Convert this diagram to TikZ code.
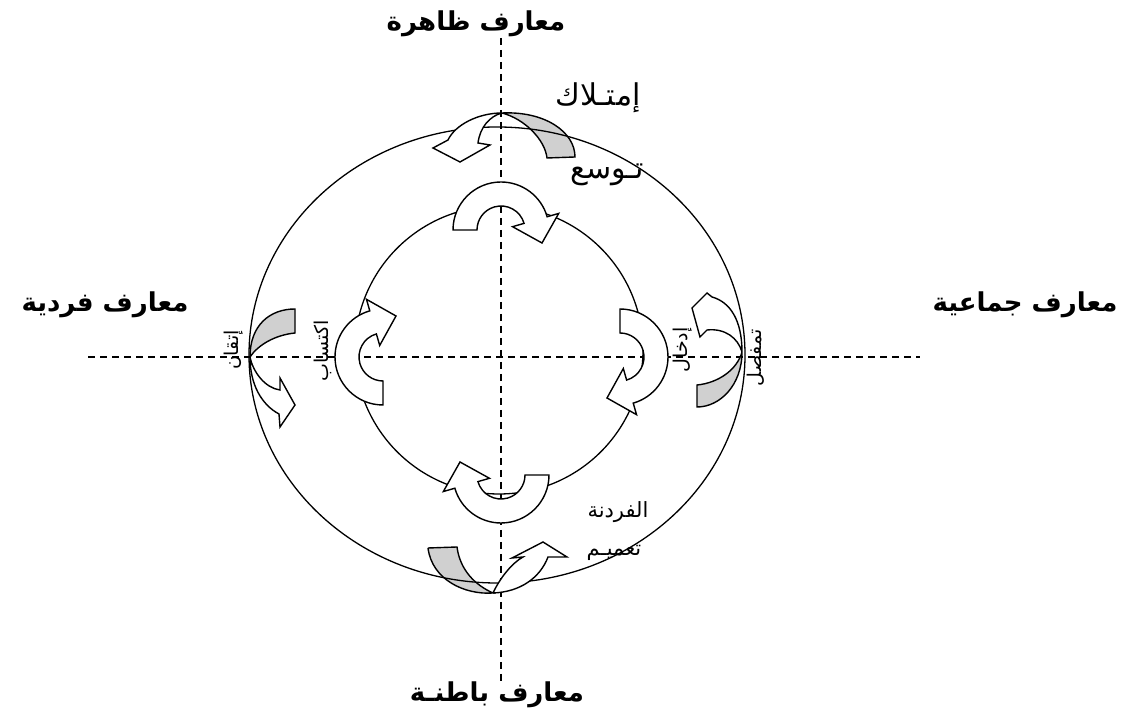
\documentclass[tikz,border=0pt]{standalone}
\usepackage{fontspec}
\usepackage{xcolor}
\usepackage{tikz}
\newfontfamily\arabicfont[Script=Arabic]{DejaVu Sans}
\TeXXeTstate=1
\definecolor{ribbongray}{HTML}{D0D0D0}

\tikzset{
  inarrow/.pic={
    \draw[line width=1.4pt, fill=white] (180:48) arc[start angle=180, end angle=16, radius=48]
      -- (16:60) -- (41,-13) -- (16:12) -- (16:24) arc[start angle=16, end angle=180, radius=24] -- cycle;
  }
}

\begin{document}
\begin{tikzpicture}[x=1pt, y=1pt,
    axis/.style={dash pattern=on 7pt off 5pt, line width=1.1pt},
    ring/.style={line width=1.3pt},
    backface/.style={line width=1.4pt, fill=ribbongray},
    frontface/.style={line width=1.4pt, fill=white},
    biglabel/.style={font=\arabicfont\bfseries\fontsize{26}{30}\selectfont},
    midlabel/.style={font=\arabicfont\fontsize{30}{34}\selectfont},
    smalllabel/.style={font=\arabicfont\fontsize{21}{25}\selectfont},
    sidelabel/.style={font=\arabicfont\fontsize{19}{22}\selectfont, rotate=90}]
  \useasboundingbox (0,0) rectangle (1121,722);

  % axes
  \coordinate (axW) at (88,365);
  \coordinate (axE) at (920,365);
  \coordinate (axN) at (501,684);
  \coordinate (axS) at (501,40);
  \draw[axis] (axW) -- (axE);
  \draw[axis] (axN) -- (axS);

  % twist points of the outer ribbons
  \coordinate (twN) at (502,609);
  \coordinate (twW) at (250,365);
  \coordinate (twE) at (742,370);
  \coordinate (twS) at (493,129);

  % grey back faces
  \draw[backface] (twN) .. controls (545,611) and (575,590) .. (575,565) -- (547,564)
    .. controls (545,582) and (525,603) .. (twN);
  \draw[backface] (twW) .. controls (250,397) and (270,413) .. (295,413) -- (295,389)
    .. controls (275,387) and (258,377) .. (twW);
  \draw[backface] (twE) .. controls (742,337) and (720,315) .. (697,315) -- (697,337)
    .. controls (718,339) and (737,352) .. (twE);
  \draw[backface] (428,174) -- (457,175) .. controls (460,152) and (475,137) .. (twS)
    .. controls (465,127) and (432,142) .. (428,174);

  % circles
  \draw[ring] (497,367) ellipse [x radius=248, y radius=228];
  \draw[ring] (499,372) circle [radius=144];

  % white front faces with heads
  \draw[frontface] (twN) .. controls (478,609) and (455,597) .. (448,582) -- (433,574) -- (460,560)
    -- (490,577) -- (478,579) .. controls (480,595) and (490,606) .. (twN);
  \draw[frontface] (twW) .. controls (250,337) and (262,317) .. (279,308) -- (280,295) -- (295,317)
    -- (280,344) -- (280,332) .. controls (265,334) and (253,350) .. (twW);
  \draw[frontface] (twE) .. controls (742,402) and (730,420) .. (712,425) -- (707,429) -- (692,414)
    -- (700,385) -- (707,392) .. controls (725,394) and (738,384) .. (twE);
  \draw[frontface] (twS) .. controls (500,144) and (512,159) .. (523,165) -- (512,164) -- (543,180)
    -- (567,165) -- (548,165) .. controls (540,144) and (520,130) .. (twS);

  % inner arrows
  \pic at (501,492) {inarrow};
  \pic[rotate=90] at (383,365) {inarrow};
  \pic[rotate=-90] at (620,365) {inarrow};
  \pic[rotate=180] at (501,247) {inarrow};

  % labels
  \node[biglabel] (explicit) at (476,698) {\beginR معارف ظاهرة\endR};
  \node[biglabel] (tacit) at (497,27) {\beginR معارف باطنـة\endR};
  \node[biglabel] (single) at (105,417) {\beginR معارف فردية\endR};
  \node[biglabel] (collect) at (1025,417) {\beginR معارف جماعية\endR};
  \node[midlabel] (appro) at (598,624) {\beginR إمتـلاك\endR};
  \node[midlabel] (extend) at (607,547) {\beginR تـوسع\endR};
  \node[smalllabel] (indiv) at (618,210) {\beginR الفردنة\endR};
  \node[smalllabel] (general) at (614,169) {\beginR تعميـم\endR};
  \node[sidelabel] (master) at (234,372) {\beginR إتقان\endR};
  \node[sidelabel] (acquire) at (323,371) {\beginR اكتساب\endR};
  \node[sidelabel] (intern) at (683,372) {\beginR إدخال\endR};
  \node[sidelabel] (articul) at (756,364) {\beginR تمفصل\endR};
\end{tikzpicture}
\end{document}
